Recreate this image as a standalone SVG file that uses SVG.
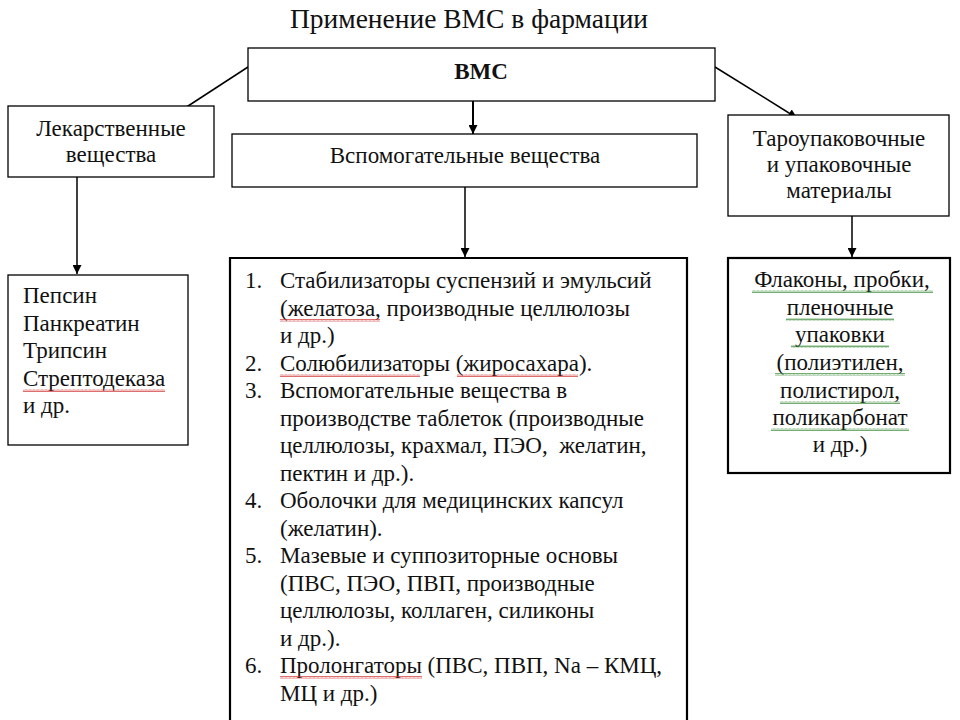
<svg xmlns="http://www.w3.org/2000/svg" width="960" height="720" viewBox="0 0 960 720">
<style>
text{font-family:"Liberation Serif","Times New Roman",serif;fill:#111;}
.box{fill:#fff;stroke:#000;stroke-width:1.3;}
.thick{fill:#fff;stroke:#000;stroke-width:2.2;}
.t{font-size:23px;}
.c{text-anchor:middle;}
.conn{stroke:#000;stroke-width:1.5;fill:none;marker-end:url(#ah);}
.sqr{fill:url(#wr);}
.sqg{fill:url(#wg);}
</style>
<defs>
<marker id="ah" viewBox="0 0 10 10" refX="10" refY="5" markerWidth="9" markerHeight="9" markerUnits="userSpaceOnUse" orient="auto">
<path d="M0,0 L10,5 L0,10 z" fill="#000"/>
</marker>
<pattern id="wr" width="4" height="3" patternUnits="userSpaceOnUse">
<polyline points="0,2.5 1,0.5 2,2.5 3,0.5 4,2.5" fill="none" stroke="#d03030" stroke-width="0.7"/>
</pattern>
<pattern id="wg" width="4" height="3" patternUnits="userSpaceOnUse">
<polyline points="0,2.5 1,0.5 2,2.5 3,0.5 4,2.5" fill="none" stroke="#3a8a3a" stroke-width="0.7"/>
</pattern>
</defs>
<rect width="960" height="720" fill="#fff"/>
<text x="469" y="28" class="c" style="font-size:27.5px">Применение ВМС в фармации</text>

<g id="connectors">
<line class="conn" x1="248" y1="67" x2="165" y2="121"/>
<line class="conn" x1="473" y1="101" x2="473" y2="134" style="stroke-width:2"/>
<line class="conn" x1="715" y1="67" x2="797" y2="118"/>
<line class="conn" x1="77" y1="177" x2="77" y2="274"/>
<line class="conn" x1="465" y1="187" x2="465" y2="257"/>
<line class="conn" x1="852" y1="216" x2="852" y2="257"/>
</g>

<g id="vms">
<rect class="box" x="248" y="48" width="467" height="53"/>
<text x="481" y="79" class="c" style="font-size:23px;font-weight:bold">ВМС</text>
</g>

<g id="drugs">
<rect class="box" x="8" y="106" width="206" height="71"/>
<text x="111" y="136" class="c t">Лекарственные</text>
<text x="111" y="162" class="c t">вещества</text>
</g>

<g id="aux">
<rect class="box" x="232" y="134" width="465" height="53"/>
<text x="465" y="163" class="c t">Вспомогательные вещества</text>
</g>

<g id="pack">
<rect class="box" x="728" y="115" width="221" height="101"/>
<text x="839" y="146" class="c t">Тароупаковочные</text>
<text x="839" y="172" class="c t">и упаковочные</text>
<text x="839" y="198" class="c t">материалы</text>
</g>

<g id="enzymes">
<rect class="box" x="8" y="275" width="180" height="170"/>
<text x="23" y="303" class="t">Пепсин</text>
<text x="23" y="331" class="t">Панкреатин</text>
<text x="23" y="358" class="t">Трипсин</text>
<text x="23" y="386" class="t">Стрептодеказа</text>
<rect class="sqr" x="23" y="389" width="142" height="3"/>
<text x="23" y="413" class="t">и др.</text>
</g>

<g id="auxlist">
<path class="thick" d="M230,722 L230,258 L687,258 L687,722"/>
<g class="t">
<text x="245" y="288">1.</text>
<text x="280" y="288">Стабилизаторы суспензий и эмульсий</text>
<text x="280" y="315.5">(желатоза, производные целлюлозы</text>
<rect class="sqr" x="280" y="319" width="100" height="3"/>
<text x="280" y="343">и др.)</text>
<text x="245" y="370.5">2.</text>
<text x="280" y="370.5">Солюбилизаторы (жиросахара).</text>
<rect class="sqr" x="280" y="374" width="140" height="3"/>
<rect class="sqr" x="457" y="374" width="121" height="3"/>
<text x="245" y="398">3.</text>
<text x="280" y="398">Вспомогательные вещества в</text>
<text x="280" y="425.5">производстве таблеток (производные</text>
<text x="280" y="453" xml:space="preserve">целлюлозы, крахмал, ПЭО,  желатин,</text>
<text x="280" y="480.5">пектин и др.).</text>
<text x="245" y="508">4.</text>
<text x="280" y="508">Оболочки для медицинских капсул</text>
<text x="280" y="535.5">(желатин).</text>
<text x="245" y="563">5.</text>
<text x="280" y="563">Мазевые и суппозиторные основы</text>
<text x="280" y="590.5">(ПВС, ПЭО, ПВП, производные</text>
<text x="280" y="618">целлюлозы, коллаген, силиконы</text>
<text x="280" y="645.5">и др.).</text>
<text x="245" y="673">6.</text>
<text x="280" y="673">Пролонгаторы (ПВС, ПВП, Na – КМЦ,</text>
<rect class="sqr" x="280" y="676" width="142" height="3"/>
<text x="280" y="700.5">МЦ и др.)</text>
</g>
</g>

<g id="packlist">
<rect class="thick" x="728" y="258" width="222" height="215"/>
<text x="842" y="287" class="c t">Флаконы, пробки,</text>
<rect class="sqg" x="752" y="290" width="181" height="3"/>
<text x="840" y="315" class="c t">пленочные</text>
<rect class="sqg" x="786" y="318" width="108" height="3"/>
<text x="840" y="342" class="c t">упаковки</text>
<rect class="sqg" x="791" y="345" width="98" height="3"/>
<text x="840" y="370" class="c t">(полиэтилен,</text>
<rect class="sqg" x="775" y="373" width="130" height="3"/>
<text x="840" y="398" class="c t">полистирол,</text>
<rect class="sqg" x="780" y="401" width="120" height="3"/>
<text x="840" y="425" class="c t">поликарбонат</text>
<rect class="sqg" x="771" y="428" width="138" height="3"/>
<text x="840" y="452" class="c t">и др.)</text>
</g>
</svg>
